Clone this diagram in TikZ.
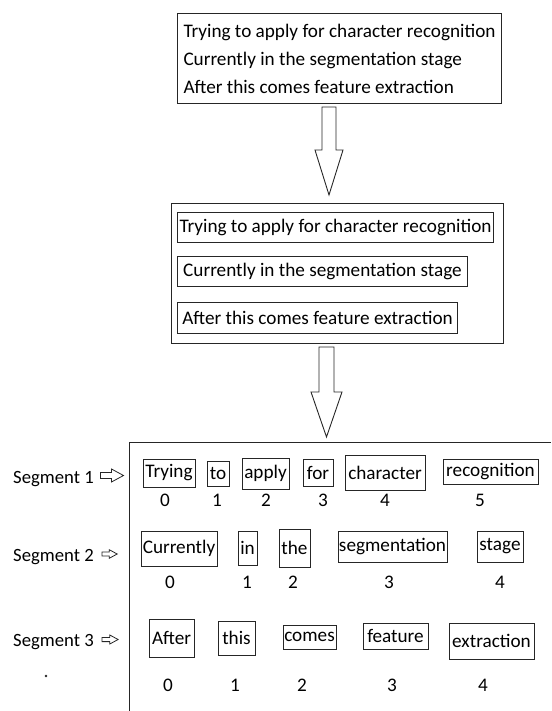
\documentclass[tikz,border=0pt]{standalone}
\usepackage{fontspec}
\setmainfont{Carlito}
\begin{document}
\begin{tikzpicture}[x=1pt,y=-1pt, line join=miter,
  frame/.style={draw=black!85, line width=1pt},
  txt/.style={font=\fontsize{19.2}{28}\selectfont, text=black},
  wbox/.style={frame, txt, inner sep=0pt},
  num/.style={txt, inner sep=0pt},
  seglabel/.style={font=\fontsize{18.7}{22}\selectfont, text=black, anchor=base west, inner sep=0pt},
  harrow/.pic={\draw[black!85, line width=0.8pt] (0,-3) -- (11,-3) -- (11,-6.5) -- (23,0) -- (11,6.5) -- (11,3) -- (0,3) -- cycle;}
  ]
\useasboundingbox (0,0) rectangle (551,711);

% top box
\node[frame, txt, align=left, anchor=north west, minimum width=324pt, minimum height=90pt, inner xsep=4pt] (top) at (177,13)
  {Trying to apply for character recognition\\Currently in the segmentation stage\\After this comes feature extraction};

% arrow 1
\draw[black!85, line width=0.9pt] (322,107) coordinate (a1) -- (336,107) -- (336,150) -- (343,150) -- (329,195) coordinate (a1t) -- (315,150) -- (322,150) -- cycle;

% middle box
\node[frame, anchor=north west, minimum width=332pt, minimum height=140pt, inner sep=0pt] (mid) at (171,203) {};
\node[wbox, anchor=west, minimum width=316pt, minimum height=29pt] (l1) at (177,227.5) {Trying to apply for character recognition};
\node[wbox, anchor=west, minimum width=290pt, minimum height=30pt] (l2) at (177,271) {Currently in the segmentation stage};
\node[wbox, anchor=west, minimum width=280pt, minimum height=31pt] (l3) at (177,317.5) {After this comes feature extraction};

% arrow 2
\draw[black!85, line width=0.9pt] (319,347) coordinate (a2) -- (334,347) -- (334,392) -- (342,392) -- (326.5,437) coordinate (a2t) -- (311,392) -- (319,392) -- cycle;

% segment frame
\draw[frame] (129,711) -- (129,442) -- (551,442);

% segment labels
\node[seglabel] (s1) at (13,483) {Segment 1};
\node[seglabel] (s2) at (13,561) {Segment 2};
\node[seglabel] (s3) at (13,646) {Segment 3};
\pic at (100.5,475.5) {harrow};
\pic[scale=0.66] at (102,554) {harrow};
\pic[scale=0.7] at (102,639.5) {harrow};
\fill[black!85] (46,676) circle (1.3pt);

% row 1
\node[wbox, minimum width=52pt, minimum height=28pt] (w10) at (169,473) {Trying};
\node[wbox, minimum width=22pt, minimum height=25pt] (w11) at (218,473.5) {to};
\node[wbox, minimum width=47pt, minimum height=31pt] (w12) at (265.5,473.5) {apply};
\node[wbox, minimum width=30pt, minimum height=27pt] (w13) at (318,472.5) {for};
\node[wbox, minimum width=80pt, minimum height=35pt] (w14) at (385,472.5) {character};
\node[wbox, minimum width=95pt, minimum height=25pt] (w15) at (490.5,471.5) {recognition};
\node[num] (n10) at (165,500) {0};
\node[num] (n11) at (217,500) {1};
\node[num] (n12) at (266,500) {2};
\node[num] (n13) at (323,500) {3};
\node[num] (n14) at (385,500) {4};
\node[num] (n15) at (480,500) {5};

% row 2
\node[wbox, minimum width=76pt, minimum height=35pt] (w20) at (179,548.5) {Currently};
\node[wbox, minimum width=19pt, minimum height=34pt] (w21) at (247.5,548) {in};
\node[wbox, minimum width=31pt, minimum height=38pt] (w22) at (294.5,548) {the};
\node[wbox, minimum width=109pt, minimum height=31pt] (w23) at (392.5,546.5) {segmentation};
\node[wbox, minimum width=46pt, minimum height=31pt] (w24) at (500,546.5) {stage};
\node[num] (n20) at (170,582) {0};
\node[num] (n21) at (247,582) {1};
\node[num] (n22) at (293,582) {2};
\node[num] (n23) at (389,582) {3};
\node[num] (n24) at (500,582) {4};

% row 3
\node[wbox, minimum width=45pt, minimum height=38pt] (w30) at (171.5,638) {After};
\node[wbox, minimum width=37pt, minimum height=34pt] (w31) at (236.5,638) {this};
\node[wbox, minimum width=53pt, minimum height=24pt] (w32) at (309.5,637) {comes};
\node[wbox, minimum width=65pt, minimum height=26pt] (w33) at (395.5,636) {feature};
\node[wbox, minimum width=85pt, minimum height=36pt] (w34) at (491.5,641) {extraction};
\node[num] (n30) at (168,685) {0};
\node[num] (n31) at (235,685) {1};
\node[num] (n32) at (302,685) {2};
\node[num] (n33) at (392,685) {3};
\node[num] (n34) at (483,685) {4};
\end{tikzpicture}
\end{document}
